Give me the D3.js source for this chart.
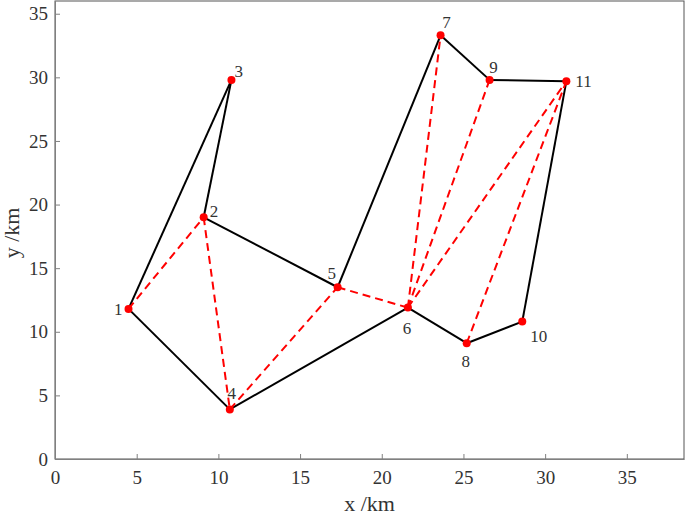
<!DOCTYPE html>
<html>
<head>
<meta charset="utf-8">
<script src="https://cdn.jsdelivr.net/npm/d3@7"></script>
<style>
	body { margin: 0; background: #fff; }
	svg { display: block; font-family: "Liberation Serif", "Times New Roman", serif; }
	.axis path, .axis line { stroke: #808080; }
	.axis text { fill: #333; font-size: 19px; font-family: "Liberation Serif", serif; }
</style>
</head>
<body>
<svg id="chart" width="685" height="515"></svg>
<script>
'use strict';

// node positions (km)
const nodeIds = [1, 2, 3, 4, 5, 6, 7, 8, 9, 10, 11];
const nodeX = [4.5, 9.1, 10.8, 10.7, 17.3, 21.6, 23.6, 25.2, 26.6, 28.6, 31.3];
const nodeY = [11.8, 19.0, 29.8, 3.9, 13.5, 11.9, 33.3, 9.1, 29.8, 10.8, 29.7];

// tour edges (solid black) and extra links (red dashed)
const tourEdges = [[1, 3], [3, 2], [2, 5], [5, 7], [7, 9], [9, 11], [11, 10], [10, 8], [8, 6], [6, 4], [4, 1]];
const linkEdges = [[1, 2], [2, 4], [4, 5], [5, 6], [6, 7], [6, 9], [6, 11], [8, 11]];

const xTicks = [0, 5, 10, 15, 20, 25, 30, 35];
const yTicks = [0, 5, 10, 15, 20, 25, 30, 35];

// label placement per node: [dx, dy, anchor]
const labelPos = {
	1: [-6, 6, 'end'], 2: [6, 0, 'start'], 3: [3, -3, 'start'], 4: [2, -10, 'middle'],
	5: [-6, -8, 'middle'], 6: [-1, 26, 'middle'], 7: [6, -7, 'middle'], 8: [-1, 24, 'middle'],
	9: [4, -7, 'middle'], 10: [8, 20, 'start'], 11: [9, 6, 'start']
};

const margin = { top: 1, right: 1, bottom: 56, left: 55 },
	width = 685 - margin.left - margin.right,
	height = 515 - margin.top - margin.bottom;

const svg = d3.select('#chart'),
	g = svg.append('g').attr('transform', `translate(${margin.left},${margin.top})`),
	x = d3.scaleLinear().domain([0, 38.5]).range([0, width]),
	y = d3.scaleLinear().domain([0, 36]).range([height, 0]);

const nodes = nodeIds.map((id, i) => ({ id: id, x: nodeX[i], y: nodeY[i] }));
const byId = id => nodes.find(n => n.id === id);

// box
g.append('rect')
	.attr('width', width).attr('height', height)
	.attr('fill', 'none').attr('stroke', '#555').attr('stroke-width', 1);

g.append('g')
	.attr('class', 'axis')
	.attr('transform', `translate(0,${height})`)
	.call(d3.axisBottom(x).tickValues(xTicks).tickSize(-5).tickPadding(12).tickSizeOuter(0));

g.append('g')
	.attr('class', 'axis')
	.call(d3.axisLeft(y).tickValues(yTicks).tickSize(-5).tickPadding(7).tickSizeOuter(0));

g.append('text')
	.attr('x', width / 2).attr('y', height + 52)
	.attr('text-anchor', 'middle')
	.attr('font-size', 22).attr('fill', '#333')
	.text('x /km');

g.append('text')
	.attr('transform', `translate(${-36},${height / 2 + 3}) rotate(-90)`)
	.attr('text-anchor', 'middle')
	.attr('font-size', 22).attr('fill', '#333')
	.text('y /km');

const drawEdges = (edges, cls, color, dash) => {
	g.selectAll('line.' + cls).data(edges).enter().append('line')
		.attr('class', cls)
		.attr('x1', d => x(byId(d[0]).x)).attr('y1', d => y(byId(d[0]).y))
		.attr('x2', d => x(byId(d[1]).x)).attr('y2', d => y(byId(d[1]).y))
		.attr('stroke', color).attr('stroke-width', 2)
		.attr('stroke-dasharray', dash);
};

drawEdges(tourEdges, 'tour', '#000', null);
drawEdges(linkEdges, 'link', '#ff0000', '8,5');

g.selectAll('circle').data(nodes).enter().append('circle')
	.attr('cx', d => x(d.x)).attr('cy', d => y(d.y))
	.attr('r', 4).attr('fill', '#ff0000');

g.selectAll('text.node').data(nodes).enter().append('text')
	.attr('class', 'node')
	.attr('x', d => x(d.x) + labelPos[d.id][0])
	.attr('y', d => y(d.y) + labelPos[d.id][1])
	.attr('text-anchor', d => labelPos[d.id][2])
	.attr('font-size', 17).attr('fill', '#333')
	.text(d => d.id);
</script>
</body>
</html>
